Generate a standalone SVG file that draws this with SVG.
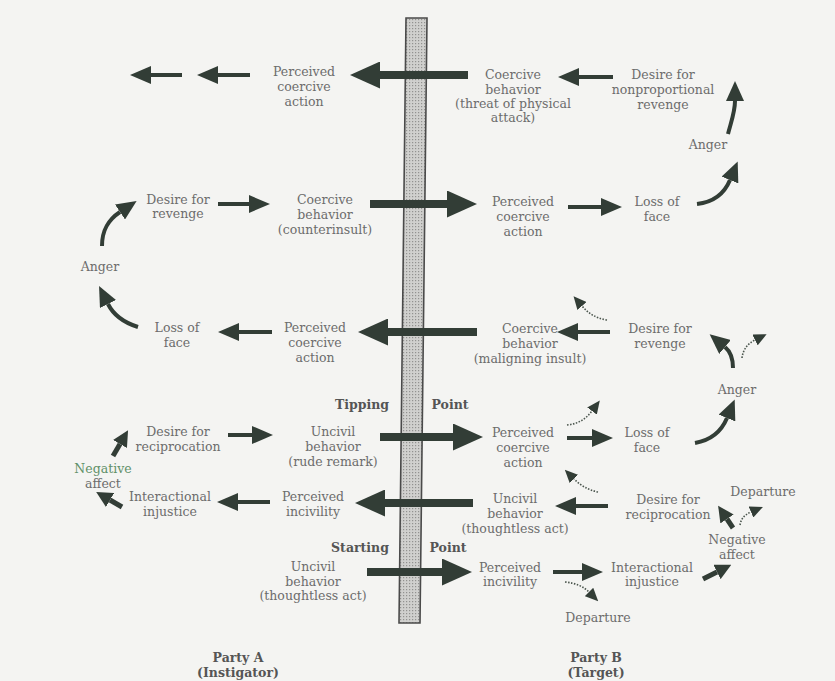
<svg xmlns="http://www.w3.org/2000/svg" width="835" height="681" viewBox="0 0 835 681">
<style>
text{font-family:"DejaVu Serif","Liberation Serif",serif;font-size:12.5px;fill:#6c6c6c;text-anchor:middle}
.b{font-weight:bold;fill:#555}
.g{fill:#5f9068}
.sh{fill:none;stroke:#323d36;stroke-width:4}
.bg{fill:none;stroke:#323d36;stroke-width:8}
.cv{fill:none;stroke:#323d36;stroke-width:4}
.sb{fill:none;stroke:#323d36;stroke-width:5}
.dt{fill:none;stroke:#4a554d;stroke-width:1.6;stroke-dasharray:1.5 1.5}
</style>
<defs>
<marker id="hs" markerUnits="userSpaceOnUse" markerWidth="21" markerHeight="18" refX="0" refY="9" orient="auto"><path d="M0,0 L21,9 L0,18 z" fill="#323d36"/></marker>
<marker id="hb" markerUnits="userSpaceOnUse" markerWidth="30" markerHeight="27" refX="0" refY="13.5" orient="auto"><path d="M0,0 L30,13.5 L0,27 z" fill="#323d36"/></marker>
<marker id="hc" markerUnits="userSpaceOnUse" markerWidth="20" markerHeight="18" refX="0" refY="9" orient="auto"><path d="M0,0 L20,9 L0,18 z" fill="#323d36"/></marker>
<marker id="hx" markerUnits="userSpaceOnUse" markerWidth="16" markerHeight="16" refX="0" refY="8" orient="auto"><path d="M0,0 L16,8 L0,16 z" fill="#323d36"/></marker>
<marker id="hd" markerUnits="userSpaceOnUse" markerWidth="13" markerHeight="12" refX="0" refY="6" orient="auto"><path d="M0,0 L13,6 L0,12 z" fill="#323d36"/></marker>
<pattern id="dots" width="3" height="3" patternUnits="userSpaceOnUse"><rect width="3" height="3" fill="#d0d0ce"/><rect x="1" y="1" width="1.2" height="1.2" fill="#929290"/></pattern>
</defs>
<rect width="835" height="681" fill="#f4f4f2"/>

<g id="bar"><polygon points="406,18 427,18 420,623 399,623" fill="url(#dots)" stroke="#4a4a4a" stroke-width="1.6"/></g>

<g id="connectors">
<line class="sh" x1="182" y1="75" x2="151" y2="75" marker-end="url(#hs)"/>
<line class="sh" x1="250" y1="75" x2="218" y2="75" marker-end="url(#hs)"/>
<line class="bg" x1="468" y1="75" x2="380" y2="75" marker-end="url(#hb)"/>
<line class="sh" x1="613" y1="77" x2="579" y2="77" marker-end="url(#hs)"/>

<line class="sh" x1="218" y1="204" x2="249" y2="204" marker-end="url(#hs)"/>
<line class="bg" x1="370" y1="204" x2="447" y2="204" marker-end="url(#hb)"/>
<line class="sh" x1="568" y1="207" x2="601" y2="207" marker-end="url(#hs)"/>

<line class="sh" x1="272" y1="332" x2="239" y2="332" marker-end="url(#hs)"/>
<line class="bg" x1="477" y1="332" x2="388" y2="332" marker-end="url(#hb)"/>
<line class="sh" x1="610" y1="332" x2="578" y2="332" marker-end="url(#hs)"/>

<line class="sh" x1="228" y1="435" x2="252" y2="435" marker-end="url(#hs)"/>
<line class="bg" x1="380" y1="437" x2="453" y2="437" marker-end="url(#hb)"/>
<line class="sh" x1="567" y1="438" x2="592" y2="438" marker-end="url(#hs)"/>

<line class="sh" x1="270" y1="502" x2="238" y2="502" marker-end="url(#hs)"/>
<line class="bg" x1="473" y1="503" x2="385" y2="503" marker-end="url(#hb)"/>
<line class="sh" x1="608" y1="506" x2="576" y2="506" marker-end="url(#hs)"/>

<line class="bg" x1="367" y1="572" x2="442" y2="572" marker-end="url(#hb)"/>
<line class="sh" x1="553" y1="572" x2="582" y2="572" marker-end="url(#hs)"/>

<path class="cv" d="M728,134 C731,122 735,112 735,101" marker-end="url(#hc)"/>
<path class="cv" d="M697,204 C715,202 725,192 730,180" marker-end="url(#hc)"/>
<path class="cv" d="M102,246 C102,230 108,220 120,212" marker-end="url(#hc)"/>
<path class="cv" d="M138,327 C122,322 113,314 108,304" marker-end="url(#hc)"/>
<path class="cv" d="M733,368 C733,358 731,352 725,347" marker-end="url(#hc)"/>
<path class="cv" d="M695,443 C712,440 722,430 727,418" marker-end="url(#hc)"/>

<path class="sb" d="M113,456 L120,444" marker-end="url(#hx)"/>
<path class="sb" d="M122,507 L110,500" marker-end="url(#hx)"/>
<path class="sb" d="M733,528 L727,519" marker-end="url(#hx)"/>
<path class="sb" d="M703,579 L717,572" marker-end="url(#hx)"/>

<path class="dt" d="M607,320 C595,318 588,313 582,306" marker-end="url(#hd)"/>
<path class="dt" d="M742,358 C743,350 747,344 755,340" marker-end="url(#hd)"/>
<path class="dt" d="M567,425 C578,424 586,419 592,411" marker-end="url(#hd)"/>
<path class="dt" d="M598,492 C588,490 580,485 574,479" marker-end="url(#hd)"/>
<path class="dt" d="M740,525 C741,519 744,515 751,512" marker-end="url(#hd)"/>
<path class="dt" d="M565,582 C576,583 584,587 589,592" marker-end="url(#hd)"/>
</g>

<g id="n1"><text x="304" y="76">Perceived</text><text x="304" y="91">coercive</text><text x="304" y="106">action</text></g>
<g id="n2"><text x="513" y="79">Coercive</text><text x="513" y="94">behavior</text><text x="513" y="108">(threat of physical</text><text x="513" y="122">attack)</text></g>
<g id="n3"><text x="663" y="79">Desire for</text><text x="663" y="94">nonproportional</text><text x="663" y="109">revenge</text></g>
<g id="n4"><text x="708" y="149">Anger</text></g>
<g id="n5"><text x="178" y="204">Desire for</text><text x="178" y="218">revenge</text></g>
<g id="n6"><text x="325" y="204">Coercive</text><text x="325" y="219">behavior</text><text x="325" y="234">(counterinsult)</text></g>
<g id="n7"><text x="523" y="206">Perceived</text><text x="523" y="221">coercive</text><text x="523" y="236">action</text></g>
<g id="n8"><text x="657" y="206">Loss of</text><text x="657" y="221">face</text></g>
<g id="n9"><text x="100" y="271">Anger</text></g>
<g id="n10"><text x="177" y="332">Loss of</text><text x="177" y="347">face</text></g>
<g id="n11"><text x="315" y="332">Perceived</text><text x="315" y="347">coercive</text><text x="315" y="362">action</text></g>
<g id="n12"><text x="530" y="333">Coercive</text><text x="530" y="348">behavior</text><text x="530" y="363">(maligning insult)</text></g>
<g id="n13"><text x="660" y="333">Desire for</text><text x="660" y="348">revenge</text></g>
<g id="n14"><text x="737" y="394">Anger</text></g>
<g id="tipping"><text class="b" x="362" y="409">Tipping</text><text class="b" x="450" y="409">Point</text></g>
<g id="n15"><text x="178" y="436">Desire for</text><text x="178" y="451">reciprocation</text></g>
<g id="n16"><text x="333" y="436">Uncivil</text><text x="333" y="451">behavior</text><text x="333" y="466">(rude remark)</text></g>
<g id="n17"><text x="523" y="437">Perceived</text><text x="523" y="452">coercive</text><text x="523" y="467">action</text></g>
<g id="n18"><text x="647" y="437">Loss of</text><text x="647" y="452">face</text></g>
<g id="n19"><text class="g" x="103" y="473">Negative</text><text x="103" y="488">affect</text></g>
<g id="n20"><text x="170" y="501">Interactional</text><text x="170" y="516">injustice</text></g>
<g id="n21"><text x="313" y="501">Perceived</text><text x="313" y="516">incivility</text></g>
<g id="n22"><text x="515" y="503">Uncivil</text><text x="515" y="518">behavior</text><text x="515" y="533">(thoughtless act)</text></g>
<g id="n23"><text x="668" y="504">Desire for</text><text x="668" y="519">reciprocation</text></g>
<g id="n24"><text x="763" y="496">Departure</text></g>
<g id="starting"><text class="b" x="360" y="552">Starting</text><text class="b" x="448" y="552">Point</text></g>
<g id="n25"><text x="313" y="571">Uncivil</text><text x="313" y="586">behavior</text><text x="313" y="600">(thoughtless act)</text></g>
<g id="n26"><text x="510" y="572">Perceived</text><text x="510" y="586">incivility</text></g>
<g id="n27"><text x="598" y="622">Departure</text></g>
<g id="n28"><text x="652" y="572">Interactional</text><text x="652" y="586">injustice</text></g>
<g id="n29"><text x="737" y="544">Negative</text><text x="737" y="559">affect</text></g>
<g id="partyA"><text class="b" x="238" y="662">Party A</text><text class="b" x="238" y="677">(Instigator)</text></g>
<g id="partyB"><text class="b" x="596" y="662">Party B</text><text class="b" x="596" y="677">(Target)</text></g>
</svg>
